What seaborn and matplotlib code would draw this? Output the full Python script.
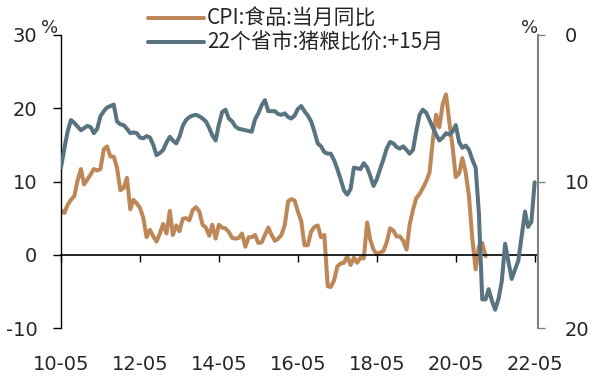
import matplotlib
matplotlib.use("Agg")
import matplotlib.pyplot as plt
import matplotlib.dates as mdates
import pandas as pd
import seaborn as sns

# CPI food, yoy %, monthly from 2010-05
cpi_food = [
    6.1, 5.7, 6.8, 7.5, 8.0, 10.1, 11.7, 9.6,
    10.3, 11.0, 11.7, 11.5, 11.7, 14.4, 14.8, 13.4, 13.4, 11.9, 8.8, 9.1,
    10.5, 6.2, 7.5, 7.0, 6.4, 5.0, 2.4, 3.4, 2.5, 1.8, 2.9, 4.2,
    2.9, 6.0, 2.7, 4.0, 3.2, 4.9, 5.0, 4.7, 6.1, 6.5, 5.9, 4.1,
    3.7, 2.6, 4.1, 2.2, 4.1, 3.7, 3.6, 3.1, 2.3, 2.2, 2.3, 2.9,
    1.1, 2.4, 2.4, 2.7, 1.6, 1.7, 2.7, 3.7, 2.7, 1.9, 2.2, 2.7,
    4.1, 7.3, 7.6, 7.4, 5.9, 4.6, 1.3, 1.3, 3.2, 3.8, 4.0, 2.4,
    2.7, -4.3, -4.4, -3.5, -1.6, -1.2, -1.1, -0.2, -1.4, -0.4, -1.1, -0.4,
    -0.5, 4.4, 2.1, 0.7, 0.1, 0.3, 0.5, 1.7, 3.6, 3.3, 2.5, 2.5,
    1.9, 0.7, 4.1, 6.1, 7.7, 8.3, 9.1, 10.0, 11.2, 15.5, 19.1, 17.4,
    20.6, 21.9, 18.3, 14.8, 10.6, 11.1, 13.2, 11.2, 7.9, 2.2, -2.0, 1.2,
    1.6, -0.2,
]

# hog/grain price ratio (22 provinces), shifted +15 months, from 2010-05
hog_grain = [
    9.05, 7.75, 6.6, 5.8, 6.0, 6.25, 6.5, 6.35, 6.2, 6.3, 6.7, 6.4,
    5.55, 5.2, 4.95, 4.85, 4.75, 5.9, 6.1, 6.15, 6.4, 6.7, 6.65, 6.7,
    7.0, 7.05, 6.9, 7.0, 7.5, 8.2, 8.05, 7.85, 7.35, 6.95, 7.2, 7.4,
    6.95, 6.2, 5.8, 5.6, 5.5, 5.45, 5.55, 5.7, 5.9, 6.35, 6.85, 7.2,
    6.1, 5.25, 5.1, 5.7, 5.9, 6.25, 6.4, 6.45, 6.5, 6.55, 6.6, 5.75,
    5.35, 4.8, 4.45, 5.2, 5.2, 5.2, 5.4, 5.45, 5.35, 5.6, 5.7, 5.5,
    5.05, 4.85, 5.2, 5.5, 5.9, 6.6, 7.4, 7.6, 8.0, 8.1, 8.1, 8.55,
    9.15, 9.85, 10.6, 10.9, 10.5, 9.05, 9.1, 9.15, 8.75, 9.05, 9.6, 10.3,
    9.85, 9.15, 8.5, 7.75, 7.3, 7.4, 7.65, 7.75, 7.6, 7.85, 8.1, 7.85,
    6.6, 5.45, 5.1, 5.3, 5.8, 6.3, 6.8, 7.2, 7.0, 6.7, 6.8, 6.6,
    6.15, 7.3, 7.7, 7.55, 7.85, 8.5, 9.05, 12.15, 18.05, 18.05, 17.35, 18.15,
    18.75, 18.0, 16.8, 14.25, 15.5, 16.65, 16.0, 15.4, 13.75, 12.05, 13.1, 12.75,
    10.05,
]

label_cpi = "CPI:食品:当月同比"
label_hog = "22个省市:猪粮比价:+15月"
xtick_dates = ["2010-05", "2012-05", "2014-05", "2016-05", "2018-05", "2020-05", "2022-05"]

df_cpi = pd.DataFrame({
    "date": pd.date_range("2010-05-01", periods=len(cpi_food), freq="MS"),
    "value": cpi_food,
})
df_hog = pd.DataFrame({
    "date": pd.date_range("2010-05-01", periods=len(hog_grain), freq="MS"),
    "value": hog_grain,
})

sns.set_style("white")
plt.rcParams["font.family"] = ["Noto Sans CJK SC", "DejaVu Sans"]
plt.rcParams["axes.unicode_minus"] = False

orange = "#BE8758"
blue = "#587480"
tickfont = "DejaVu Sans"

fig = plt.figure(figsize=(5.9, 3.77), dpi=100)
ax = fig.add_axes([61 / 590, 1 - 328 / 377, 477 / 590, 293 / 377])
ax2 = ax.twinx()

sns.lineplot(data=df_cpi, x="date", y="value", ax=ax, color=orange, lw=2.9, label=label_cpi)
sns.lineplot(data=df_hog, x="date", y="value", ax=ax2, color=blue, lw=2.9, label=label_hog)

ax.set_ylim(-10, 30)
ax2.set_ylim(20, 0)
ax.set_xlim(pd.Timestamp("2010-05-01"), pd.Timestamp("2022-06-01"))
ax.set_xlabel("")
ax.set_ylabel("")
ax2.set_ylabel("")

# left axis
ax.set_yticks([-10, 0, 10, 20, 30])
ax.tick_params(axis="y", direction="out", length=6, width=1, color="black",
               labelsize=14, pad=11, left=True)
ax.spines["left"].set_color("black")
ax.spines["left"].set_linewidth(1)
ax.spines["top"].set_visible(False)
ax.spines["right"].set_visible(False)

# x axis sits on zero
ax.spines["bottom"].set_position(("data", 0))
ax.spines["bottom"].set_color("black")
ax.spines["bottom"].set_linewidth(1.2)
ax.set_xticks([pd.Timestamp(d + "-01") for d in xtick_dates])
ax.xaxis.set_major_formatter(mdates.DateFormatter("%y-%m"))
ax.tick_params(axis="x", direction="out", length=5, width=1, color="black",
               labelsize=14, pad=67, bottom=True)

# right axis
ax2.set_yticks([0, 10, 20])
ax2.spines["right"].set_color("#808080")
ax2.spines["right"].set_linewidth(1.5)
for s in ["left", "top", "bottom"]:
    ax2.spines[s].set_visible(False)
ax2.tick_params(axis="y", direction="out", length=5, width=1, color="#808080",
                labelsize=14, pad=14, right=True)

for lbl in ax.get_xticklabels() + ax.get_yticklabels() + ax2.get_yticklabels():
    lbl.set_family(tickfont)

ax.text(-0.025, 1.025, "%", transform=ax.transAxes, fontsize=13, ha="center",
        va="center", family=tickfont)
ax2.text(0.983, 1.025, "%", transform=ax.transAxes, fontsize=13, ha="center",
         va="center", family=tickfont)

h1, l1 = ax.get_legend_handles_labels()
h2, l2 = ax2.get_legend_handles_labels()
ax.get_legend().remove()
ax2.get_legend().remove()
fig.legend(h1 + h2, l1 + l2, loc="upper left", bbox_to_anchor=(144 / 590, 0.99),
           frameon=False, fontsize=15, handlelength=2.7, handletextpad=0.12,
           labelspacing=0.1, borderpad=0.2, borderaxespad=0)

fig.savefig("out.png", dpi=100)
